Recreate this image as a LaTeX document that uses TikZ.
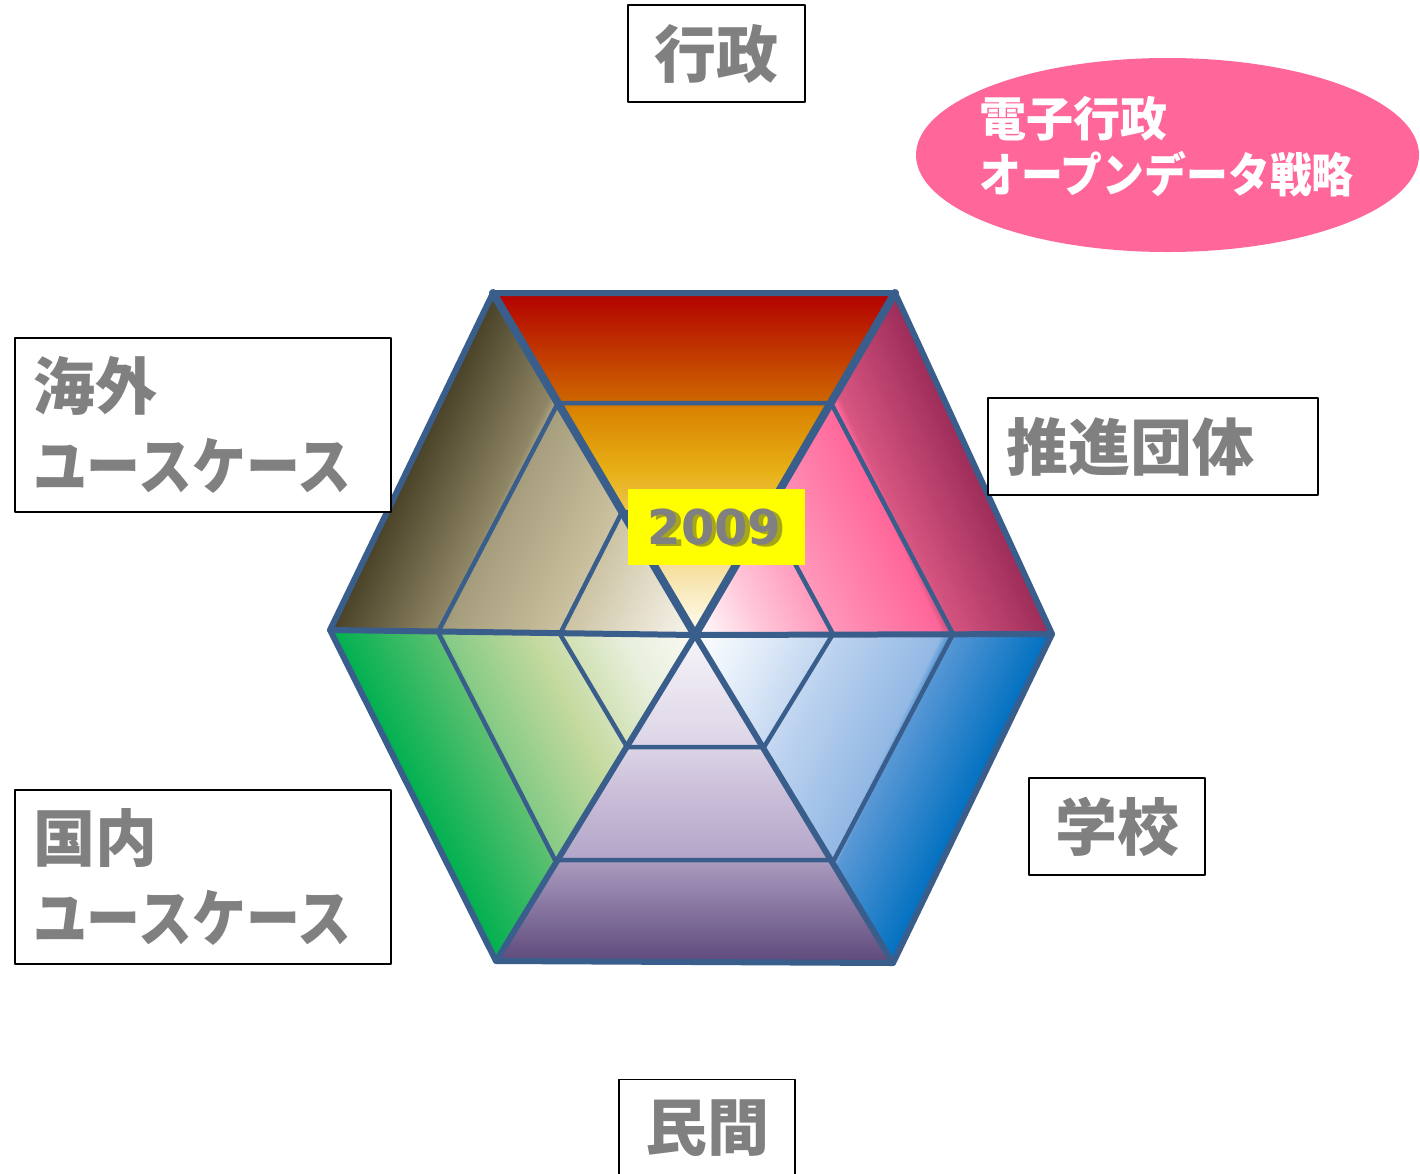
\documentclass[tikz,border=0pt]{standalone}
\usepackage{fontspec}
\newfontfamily\jp{Noto Sans CJK JP}
\newfontfamily\dv{DejaVu Sans}
\usetikzlibrary{calc,shapes.geometric}
\definecolor{lineblue}{HTML}{3A5E8C}
\definecolor{labelgray}{HTML}{808080}
\definecolor{pinkE}{HTML}{FF6699}
\definecolor{yshadow}{HTML}{5E5E30}
\definecolor{yellowbox}{HTML}{FFFF00}
% top (red-orange)
\definecolor{tA}{HTML}{FFFDF4}\definecolor{tB}{HTML}{F8E6B0}\definecolor{tC}{HTML}{E7B015}
\definecolor{tD}{HTML}{D98200}\definecolor{tE}{HTML}{CE6800}\definecolor{tF}{HTML}{B20000}
% top right (pink)
\definecolor{pA}{HTML}{FFFFFF}\definecolor{pB}{HTML}{FFC4D8}\definecolor{pC}{HTML}{FF94B8}
\definecolor{pD}{HTML}{FF6699}\definecolor{pE}{HTML}{D85682}\definecolor{pF}{HTML}{9C2C58}
% bottom right (blue)
\definecolor{bA}{HTML}{FFFFFF}\definecolor{bB}{HTML}{E0EBF8}\definecolor{bC}{HTML}{BDD3EF}
\definecolor{bD}{HTML}{92B8E4}\definecolor{bE}{HTML}{5A98D6}\definecolor{bF}{HTML}{0070C0}
% bottom (purple)
\definecolor{uA}{HTML}{F6F4F9}\definecolor{uB}{HTML}{DCD4E6}\definecolor{uC}{HTML}{C8BCD8}
\definecolor{uD}{HTML}{B4A6C8}\definecolor{uE}{HTML}{A898BC}\definecolor{uF}{HTML}{5E4A7C}
% bottom left (green)
\definecolor{gA}{HTML}{FAFAF4}\definecolor{gB}{HTML}{E8EFDC}\definecolor{gC}{HTML}{C4D99E}
\definecolor{gD}{HTML}{86CB86}\definecolor{gE}{HTML}{5CC070}\definecolor{gF}{HTML}{00B050}
% top left (olive)
\definecolor{oA}{HTML}{F8F6EE}\definecolor{oB}{HTML}{E6E0CE}\definecolor{oC}{HTML}{C8BE9C}
\definecolor{oD}{HTML}{A49C7C}\definecolor{oE}{HTML}{8E8664}\definecolor{oF}{HTML}{4A4228}

\pgfdeclareverticalshading{shTop}{100bp}{color(0bp)=(tA); color(25bp)=(tA); color(33bp)=(tB); color(49bp)=(tC); color(58.3bp)=(tD); color(58.9bp)=(tE); color(75bp)=(tF); color(100bp)=(tF)}
\pgfdeclareverticalshading{shPink}{100bp}{color(0bp)=(pA); color(25bp)=(pA); color(35bp)=(pB); color(45bp)=(pC); color(59.5bp)=(pD); color(60.5bp)=(pE); color(75bp)=(pF); color(100bp)=(pF)}
\pgfdeclareverticalshading{shBlue}{100bp}{color(0bp)=(bA); color(25bp)=(bA); color(35bp)=(bB); color(45bp)=(bC); color(59.5bp)=(bD); color(60.5bp)=(bE); color(75bp)=(bF); color(100bp)=(bF)}
\pgfdeclareverticalshading{shPurple}{100bp}{color(0bp)=(uA); color(25bp)=(uA); color(42bp)=(uB); color(50bp)=(uC); color(59bp)=(uD); color(60bp)=(uE); color(75bp)=(uF); color(100bp)=(uF)}
\pgfdeclareverticalshading{shGreen}{100bp}{color(0bp)=(gA); color(25bp)=(gA); color(35bp)=(gB); color(47.5bp)=(gC); color(59.5bp)=(gD); color(60.5bp)=(gE); color(75bp)=(gF); color(100bp)=(gF)}
\pgfdeclareverticalshading{shOlive}{100bp}{color(0bp)=(oA); color(25bp)=(oA); color(33bp)=(oB); color(45bp)=(oC); color(59.5bp)=(oD); color(60.5bp)=(oE); color(75bp)=(oF); color(100bp)=(oF)}

\newcommand\hexsector[5]{%
  \begin{scope}
    \clip (#1) -- (#2) -- (C) -- cycle;
    \begin{scope}[transform canvas={shift={(C)},rotate=#4}]
      \shade[shading=#3] (-520pt,0pt) rectangle (520pt,#5pt);
    \end{scope}
  \end{scope}}

\tikzset{
  ringline/.style={draw=lineblue, line width=4.5pt},
  radline/.style={draw=lineblue, line width=6pt, line cap=round},
  radthick/.style={draw=lineblue, line width=8pt, line cap=round},
  outerline/.style={draw=lineblue, line width=6pt},
  lbl/.style={draw=black, line width=1.8pt, fill=white, text=labelgray,
    font=\jp\bfseries\fontsize{62}{80}\selectfont, inner sep=0pt},
  lblleft/.style={lbl, inner xsep=18pt, inner ysep=0pt, align=left},
  yeartext/.style={font=\dv\bfseries\fontsize{48}{58}\selectfont, inner sep=0pt},
  elltext/.style={font=\jp\bfseries\fontsize{47}{56}\selectfont, text=white, align=left, inner sep=0pt}
}

\begin{document}
\begin{tikzpicture}[x=1pt,y=-1pt,line join=round]
\useasboundingbox (0,0) rectangle (1420,1173);
\fill[white] (0,0) rectangle (1420,1173);

% hexagon geometry
\coordinate (C) at (695,635);
\coordinate (O1) at (493,293);
\coordinate (O2) at (895,293);
\coordinate (O3) at (1052,634);
\coordinate (O4) at (893,963);
\coordinate (O5) at (496,961);
\coordinate (O6) at (330,630);
\coordinate (M1) at (558,403);
\coordinate (M2) at (831,403);
\coordinate (M3) at (953,634);
\coordinate (M4) at (834,860);
\coordinate (M5) at (555,860);
\coordinate (M6) at (438,632);
\coordinate (I1) at (622,512);
\coordinate (I2) at (767,512);
\coordinate (I3) at (833,634);
\coordinate (I4) at (764,747);
\coordinate (I5) at (627,747);
\coordinate (I6) at (560,634);

% shaded sectors
\hexsector{O1}{O2}{shTop}{0}{342}
\hexsector{O2}{O3}{shPink}{-65.28}{325}
\hexsector{O3}{O4}{shBlue}{-115.79}{321}
\hexsector{O4}{O5}{shPurple}{-180}{327}
\hexsector{O5}{O6}{shGreen}{-243.37}{324}
\hexsector{O6}{O1}{shOlive}{64.19}{331}

% rings
\draw[ringline] (M1) -- (M2) -- (M3) -- (M4) -- (M5) -- (M6) -- cycle;
\draw[ringline] (I1) -- (I2) -- (I3) -- (I4) -- (I5) -- (I6) -- cycle;
% radials
\draw[radline] (O3) -- (C);
\draw[radline] (O4) -- (C);
\draw[radline] (O5) -- (C);
\draw[radline] (O6) -- (C);
\draw[radthick] (O1) -- (C);
\draw[radthick] (O2) -- (C);
% outer hexagon
\draw[outerline] (O1) -- (O2) -- (O3) -- (O4) -- (O5) -- (O6) -- cycle;

% year label
\node[fill=yellowbox, minimum width=177pt, minimum height=76pt, inner sep=0pt] (yr) at (716.5,527) {};
\node[yeartext, text=yshadow, opacity=0.55] (yrs) at ([shift={(2.5pt,-2.5pt)}]yr.center) {2009};
\node[yeartext, text=labelgray] (yrt) at ([shift={(-2pt,0pt)}]yr.center) {2009};

% labels
\node[lbl, minimum width=177pt, minimum height=97pt] (gyosei) at (716.5,53.5) {行政};
\node[lblleft, text width=294pt, minimum height=97pt] (suishin) at (1153,446.5) {推進団体};
\node[lbl, minimum width=176pt, minimum height=97pt] (gakko) at (1117,826.5) {学校};
\node[lbl, minimum width=176pt, minimum height=97pt] (minkan) at (707,1128) {民間};
\node[lblleft, text width=340pt, minimum height=174pt] (kaigai) at (203,425)
  {海外\\\scalebox{0.87}[1]{ユースケース}};
\node[lblleft, text width=340pt, minimum height=174pt] (kokunai) at (203,877)
  {国内\\\scalebox{0.87}[1]{ユースケース}};

% ellipse
\node[ellipse, fill=pinkE, minimum width=503pt, minimum height=194pt, inner sep=0pt] (ell) at (1167.5,155) {};
\node[elltext, anchor=west] (elltxt) at ([shift={(-188pt,8pt)}]ell.center)
  {電子行政\\\scalebox{0.89}[1]{オープンデータ戦略}};
\end{tikzpicture}
\end{document}
